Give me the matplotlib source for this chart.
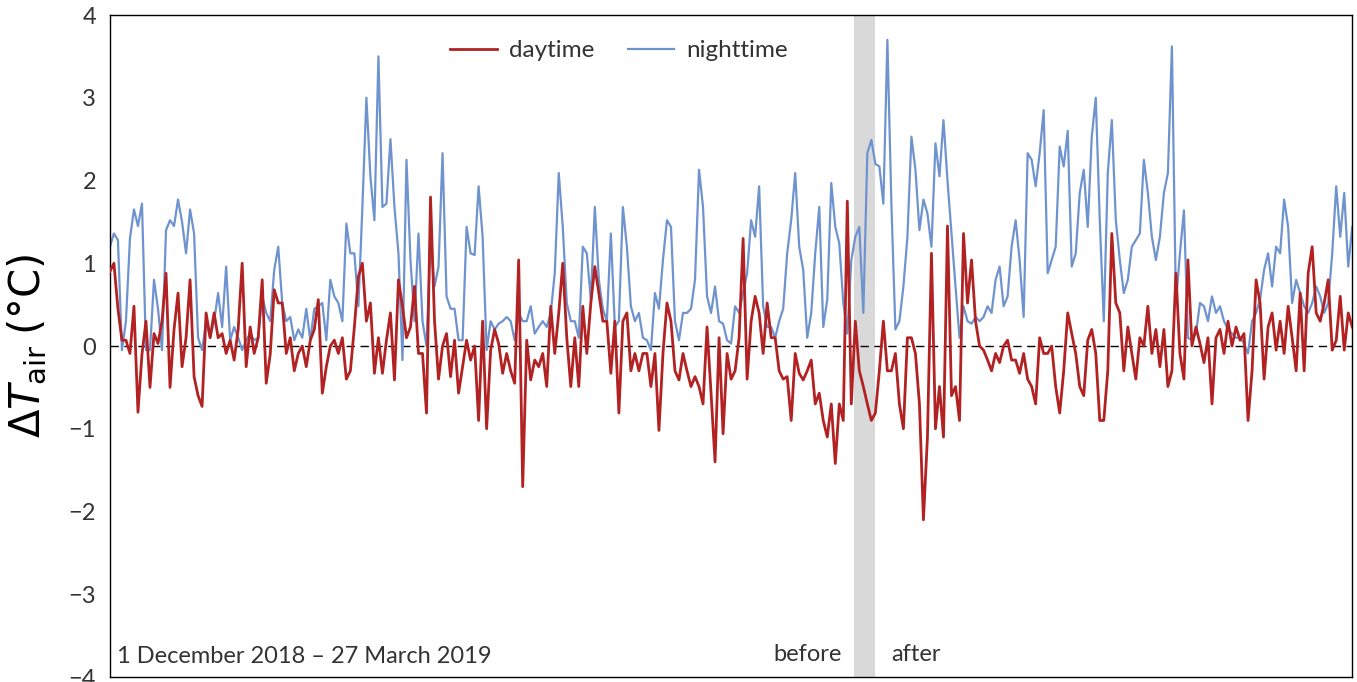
import numpy as np
import matplotlib
matplotlib.use("Agg")
import matplotlib.pyplot as plt

plt.rcParams['font.family'] = ['Lato', 'DejaVu Sans']
plt.rcParams['axes.unicode_minus'] = True

# period length in days (1 Dec 2018 - 27 Mar 2019)
n_days = 116
# intervention window (days since 1 Dec)
gap_start, gap_end = 69.5, 71.45

# nighttime air temperature difference (deg C)
nighttime = [
    1.2, 1.36, 1.28, -0.05, 0.3, 1.3, 1.65, 1.45, 1.72, -0.05, -0.05, 0.8, 0.45,
    -0.05, 1.4, 1.52, 1.45, 1.77, 1.5, 1.12, 1.65, 1.36, 0.1, -0.05, 0.3, 0.1,
    0.3, 0.64, 0.23, 0.96, 0.07, 0.23, 0.1, -0.05, 0.07, 0.15, 0.07, 0.1, 0.6,
    0.4, 0.3, 0.92, 1.2, 0.52, 0.3, 0.35, 0.07, 0.2, 0.1, 0.45, 0.07, 0.45,
    0.48, 0.52, 0.07, 0.8, 0.6, 0.52, 0.3, 1.48, 1.12, 1.12, 0.48, 1.68, 3.0,
    2.05, 1.52, 3.5, 1.68, 1.72, 2.5, 1.68, 1.12, -0.17, 2.25, 1.04, 0.3, 1.36,
    0.3, 0.0, 1.28, 0.72, 0.96, 2.33, 0.6, 0.45, 0.45, 0.07, 0.07, 1.44, 1.12,
    1.1, 1.93, 1.32, -0.05, 0.3, 0.2, 0.27, 0.3, 0.35, 0.3, 0.07, 0.4, 0.3,
    0.3, 0.48, 0.15, 0.23, 0.3, 0.23, 0.4, 0.88, 2.09, 1.44, 0.52, 0.3, 0.3,
    0.1, 1.2, 1.12, 0.56, 1.68, 0.8, 0.45, 0.3, 1.36, 0.23, 0.3, 1.68, 1.2,
    0.48, 0.3, 0.4, 0.1, 0.07, -0.05, 0.64, 0.45, 1.04, 1.52, 1.44, 0.3, 0.07,
    0.4, 0.4, 0.45, 0.8, 2.13, 1.68, 0.6, 0.4, 0.72, 0.3, 0.27, 0.07,
    0.03, 0.48, 0.4, 0.64, 0.88, 1.52, 1.32, 1.93, 0.48, 0.23, 0.23, 0.1, 0.3,
    0.45, 1.12, 1.52, 2.09, 1.2, 0.92, 0.1, 0.4, 1.12, 1.68, 0.23, 0.56, 1.97,
    1.44, 1.24, 0.52, 0.15, 1.04, 1.32, 1.44, 0.4, 2.33, 2.49, 2.2, 2.17, 1.72,
    3.7, 1.72, 0.2, 0.3, 0.72, 1.32, 2.53, 2.13, 1.4, 1.77, 1.6, 1.2, 2.45,
    2.05, 2.73, 2.0, 1.36, 0.72, 0.1, 0.48, 0.3, 0.27, 0.35, 0.3, 0.35, 0.48,
    0.4, 0.8, 0.96, 0.48, 0.6, 1.2, 1.52, 1.04, 0.35, 2.33, 2.25, 1.93, 2.33,
    2.85, 0.88, 1.04, 1.2, 2.41, 2.17, 2.6, 0.96, 1.12, 1.85, 2.13, 1.44, 2.53,
    3.0, 1.52, 0.3, 2.09, 2.73, 1.52, 1.04, 0.64, 0.8, 1.2, 1.28, 1.36, 2.25,
    1.85, 1.32, 1.04, 1.32, 1.85, 2.09, 3.62, 0.52, 1.12, 1.64, 0.1, 0.07, 0.15,
    0.52, 0.48, 0.3, 0.6, 0.4, 0.48, 0.3, 0.2, 0.15, 0.1, 0.1, 0.03, -0.09,
    0.3, 0.4, 0.56, 0.92, 1.12, 0.72, 1.2, 1.12, 1.77, 1.44, 0.52, 0.8, 0.64,
    0.48, 0.4, 0.52, 0.72, 0.6, 0.4, 0.52, 1.12, 1.93, 1.32, 1.85, 0.96, 1.44,
]

# daytime air temperature difference (deg C)
daytime = [
    0.9, 1.0, 0.45, 0.07, 0.07, -0.09, 0.48, -0.8, -0.1, 0.3, -0.5, 0.15, 0.03,
    0.3, 0.88, -0.5, 0.2, 0.64, -0.25, 0.1, 0.8, -0.37, -0.6, -0.73, 0.4, 0.1,
    0.4, 0.1, 0.15, -0.09, 0.07, -0.17, 0.2, 1.0, -0.25, 0.23, -0.09, 0.1, 0.8,
    -0.45, -0.1, 0.68, 0.52, 0.52, -0.09, 0.1, -0.3, -0.09, 0.0, -0.25, 0.07,
    0.2, 0.56, -0.57, -0.25, 0.0, 0.07, -0.09, 0.1, -0.4, -0.3, 0.23, 0.84,
    1.0, 0.3, 0.52, -0.33, 0.1, -0.33, 0.07, 0.4, -0.41, 0.8, 0.48, 0.1, 0.23,
    0.72, -0.09,
    -0.09, -0.81, 1.8, 0.3, -0.4, 0.0, 0.15, -0.37, 0.07, -0.57, -0.25, 0.07,
    -0.17, 0.0, -0.9, 0.3, -1.0, -0.05, 0.2, 0.03, -0.33, -0.09, -0.3, -0.45,
    1.04, -1.7, 0.07, -0.41, -0.17, -0.25, -0.09, -0.49, 0.48, -0.09, 0.4, 1.0,
    0.1, -0.49, 0.1,
    -0.49, 0.48, -0.09, 0.52, 0.96, 0.64, 0.3, 0.3, -0.33, 0.3, -0.81, 0.3,
    0.4, -0.3, -0.09, -0.3, -0.09, -0.09, -0.49, -0.09, -1.02, -0.09, 0.52,
    0.3, -0.3, -0.41, -0.09, -0.3, -0.49, -0.37, -0.49, -0.7, 0.23, -0.57,
    -1.4, 0.1, -1.06, -0.09,
    -0.4, -0.3, 0.1, 1.3, -0.4, 0.3, 0.6, 0.4, -0.09, 0.52, 0.1, 0.1, -0.3,
    -0.4, -0.37, -0.9, -0.09, -0.33, -0.41, -0.3, -0.17, -0.7, -0.57, -0.9,
    -1.1, -0.7, -1.42, -0.7, -0.9, 1.75, -0.7, 0.3, -0.3, -0.49, -0.7, -0.9,
    -0.81, -0.3, 0.3,
    -0.3, -0.3, -0.09, -0.7, -1.0, 0.1, 0.1, -0.09, -0.7, -2.1, -1.1, 1.12,
    -1.0, -0.49, -1.1, 1.45, -0.6, -0.49, -0.9, 1.36, 0.52, 1.04, 0.3, 0.0,
    -0.05, -0.17, -0.3, -0.09, -0.2, 0.0, 0.07, -0.17, -0.17, -0.33, -0.09,
    -0.4, -0.49, -0.7, 0.1,
    -0.09, -0.09, 0.0, -0.49, -0.81, -0.3, 0.4, 0.15, -0.09, -0.49, -0.6, 0.07,
    0.2, -0.09, -0.9, -0.9, -0.3, 1.36, 0.52, 0.4, -0.3, 0.23, -0.09, -0.4,
    0.1, 0.0, 0.48, -0.09, 0.2, -0.25, 0.2, -0.49, -0.3, 0.88, -0.09, -0.4,
    1.04, 0.0, 0.23,
    0.03, -0.2, 0.1, -0.7, 0.1, 0.2, -0.09, 0.3, 0.0, 0.23, 0.07, 0.15, -0.9,
    -0.3, 0.8, 0.52, -0.4, 0.23, 0.4, -0.05, 0.3, -0.09, 0.48, 0.1, -0.3, 0.64,
    -0.3, 0.88, 1.2, 0.4, 0.3, 0.52, 0.8, -0.05, 0.07, 0.6, -0.05, 0.4, 0.23,
]

yticks = [-4, -3, -2, -1, 0, 1, 2, 3, 4]

t_night = np.linspace(0, n_days, len(nighttime))
t_day = np.linspace(0, n_days, len(daytime))

fig = plt.figure(figsize=(13.57, 6.82), dpi=100)
ax = fig.add_axes([0.081, 0.0073, 0.9155, 0.9707])

ax.axvspan(gap_start, gap_end, color='#d9d9d9', lw=0, zorder=0)
ax.axhline(0, color='black', lw=1, ls=(0, (6, 4)), zorder=1)

ax.plot(t_day, daytime, color='#b22222', lw=2.0, label='daytime', zorder=3)
ax.plot(t_night, nighttime, color='#6f93cf', lw=1.6, label='nighttime', zorder=2)

ax.set_xlim(0, n_days)
ax.set_ylim(-4, 4)
ax.set_xticks([])
ax.set_yticks(yticks)
ax.set_yticklabels([str(v).replace('-', '\u2212') for v in yticks])
ax.tick_params(axis='y', length=0, pad=10, labelsize=17, labelcolor='#333333')
for s in ax.spines.values():
    s.set_linewidth(1)

ax.set_ylabel(r'$\Delta T_{\mathrm{air}}$ $(°\mathrm{C})$', fontsize=30, labelpad=14)

ax.legend(loc='upper center', bbox_to_anchor=(0.41, 0.995), ncol=2, frameon=False,
          fontsize=17.5, handlelength=1.9, columnspacing=1.4, handletextpad=0.5,
          labelcolor='#333333')

ax.text(0.006, 0.015, '1 December 2018 \u2013 27 March 2019', transform=ax.transAxes,
        fontsize=17, color='#333333', ha='left', va='bottom')
ax.text(gap_start - 1.2, -3.85, 'before', fontsize=17, color='#333333', ha='right', va='bottom')
ax.text(gap_end + 1.5, -3.85, 'after', fontsize=17, color='#333333', ha='left', va='bottom')

fig.savefig('out.png', dpi=100)
